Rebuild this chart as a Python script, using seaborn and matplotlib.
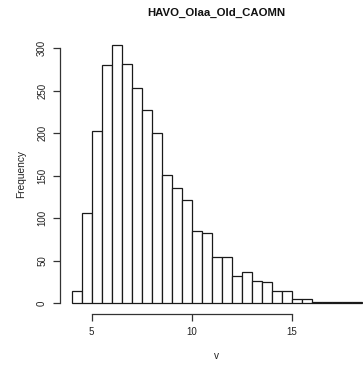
import numpy as np
import matplotlib
matplotlib.use("Agg")
import matplotlib.pyplot as plt
import seaborn as sns

# Data: histogram of v, bin width 0.5 starting at 4.0
bin_edges = [4.0 + 0.5 * i for i in range(30)]  # 4.0 .. 18.5
counts = [15, 106, 203, 280, 304, 281, 253, 227, 200, 151,
          136, 121, 85, 83, 55, 54, 32, 37, 26, 25,
          14, 14, 5, 5, 2, 1, 2, 1, 1]
x_ticks = [5, 10, 15]
y_ticks = [0, 50, 100, 150, 200, 250, 300]
title = "HAVO_Olaa_Old_CAOMN"
xlabel = "v"
ylabel = "Frequency"

centers = [(bin_edges[i] + bin_edges[i + 1]) / 2 for i in range(len(counts))]

sns.set_style("white")
plt.rcParams['font.family'] = ['Liberation Sans', 'DejaVu Sans']

W, H = 363, 365
fig = plt.figure(figsize=(W / 100, H / 100), dpi=100)
# plot region in pixels: x 60 -> 373.6, y 34.6 -> 313.6
left, right = 60 / W, 373.6 / W
top, bottom = 1 - 34.6 / H, 1 - 313.6 / H
ax = fig.add_axes([left, bottom, right - left, top - bottom])

sns.histplot(x=centers, weights=counts, bins=bin_edges, ax=ax,
             color="white", edgecolor="#1a1a1a", linewidth=0.9, alpha=1.0)

ax.set_xlim(3.42, 19.08)
ax.set_ylim(-12.16, 316.16)

for s in ["top", "right"]:
    ax.spines[s].set_visible(False)
ax.spines["left"].set_bounds(0, 300)
ax.spines["bottom"].set_bounds(5, 15)
for s in ["left", "bottom"]:
    ax.spines[s].set_color("#333333")
    ax.spines[s].set_linewidth(0.9)

ax.set_xticks(x_ticks)
ax.set_yticks(y_ticks)
ax.set_xticklabels([str(t) for t in x_ticks])
ax.set_yticklabels([str(t) for t in y_ticks], rotation=90, va="center")
ax.tick_params(axis="both", direction="out", length=5, width=0.9,
               color="#333333", labelsize=7.0, labelcolor="#222222", pad=4.3)
ax.tick_params(axis="x", bottom=True)
ax.tick_params(axis="y", left=True)
ax.set_xlabel("")
ax.set_ylabel("")
ax.grid(False)

fig.text(216.7 / W, 1 - 13.3 / H, title, ha="center", va="center",
         fontsize=8.2, fontweight="bold", color="#111111")
fig.text(216.7 / W, 1 - 356 / H, xlabel, ha="center", va="center",
         fontsize=7.2, color="#222222")
fig.text(20.7 / W, 1 - 174 / H, ylabel, ha="center", va="center",
         fontsize=7.3, color="#222222", rotation=90)

fig.savefig("out.png", dpi=100, facecolor="white")
